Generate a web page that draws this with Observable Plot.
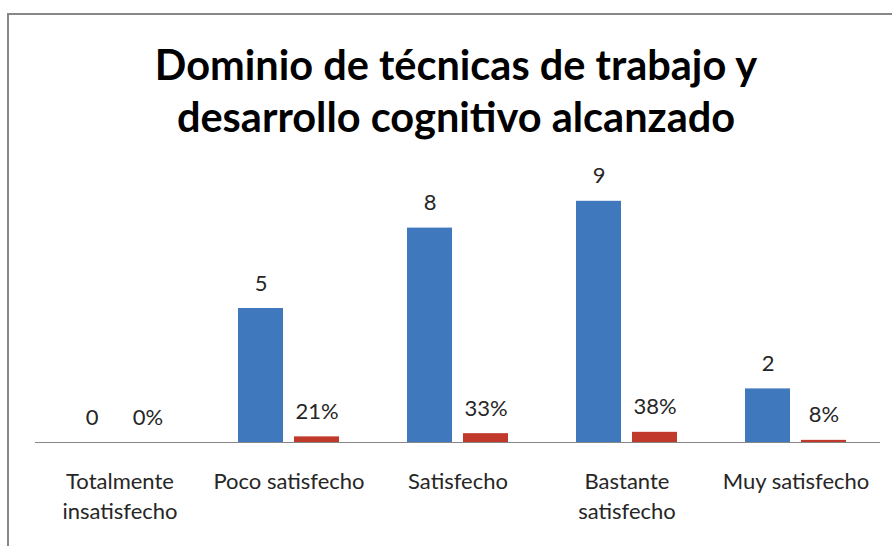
<!DOCTYPE html>
<html>
<head>
<meta charset="utf-8">
<script src="https://cdn.jsdelivr.net/npm/d3@7"></script>
<script src="https://cdn.jsdelivr.net/npm/@observablehq/plot@0.6"></script>
<style>
  html, body { margin: 0; padding: 0; background: #fff; }
  body { width: 892px; height: 546px; overflow: hidden; position: relative; font-family: Lato, "Open Sans", sans-serif; }
  #frame { position: absolute; left: 7px; top: 13px; width: 910px; height: 600px; border: 2px solid #878787; box-sizing: border-box; }
  #title { position: absolute; left: 0; top: 38px; width: 912px; text-align: center; font-weight: bold; font-size: 41.5px; line-height: 52px; color: #000; }
  #chart { position: absolute; left: 0; top: 150px; }
</style>
</head>
<body>
<div id="frame"></div>
<div id="title">Dominio de técnicas de trabajo y<br>desarrollo cognitivo alcanzado</div>
<div id="chart"></div>
<script>
const categories = ["Totalmente insatisfecho", "Poco satisfecho", "Satisfecho", "Bastante satisfecho", "Muy satisfecho"];
const tickLabels = ["Totalmente\ninsatisfecho", "Poco satisfecho", "Satisfecho", "Bastante\nsatisfecho", "Muy satisfecho"];
const series = ["Frecuencia", "Porcentaje"];
const counts = [0, 5, 8, 9, 2];
const shares = [0, 0.21, 0.33, 0.38, 0.08];
const shareLabels = ["0%", "21%", "33%", "38%", "8%"];

const data = categories.flatMap((c, i) => [
  {cat: c, series: series[0], value: counts[i], label: String(counts[i])},
  {cat: c, series: series[1], value: shares[i], label: shareLabels[i]}
]);
const tickMap = new Map(categories.map((c, i) => [c, tickLabels[i]]));

const chart = Plot.plot({
  width: 892,
  height: 396,
  marginLeft: 34,
  marginRight: 12,
  marginTop: 24,
  marginBottom: 104,
  style: {fontFamily: "Lato, 'Open Sans', sans-serif", color: "#262626", background: "transparent"},
  fx: {domain: categories, padding: 0, label: null},
  x: {domain: series, paddingInner: 0.2, paddingOuter: 0.6, axis: null},
  y: {domain: [0, 10], axis: null},
  color: {domain: series, range: ["#3f78bc", "#c0392b"]},
  marks: [
    Plot.barY(data, {fx: "cat", x: "series", y: "value", fill: "series"}),
    Plot.ruleY([0], {stroke: "#868686", strokeWidth: 1}),
    Plot.text(data, {fx: "cat", x: "series", y: "value", text: "label", dy: -25, fontSize: 22, fill: "#262626"}),
    Plot.axisFx({anchor: "bottom", tickSize: 0, tickPadding: 25, fontSize: 22, lineHeight: 1.36, label: null, fill: "#262626", tickFormat: d => tickMap.get(d)})
  ]
});
document.getElementById("chart").appendChild(chart);
</script>
</body>
</html>
